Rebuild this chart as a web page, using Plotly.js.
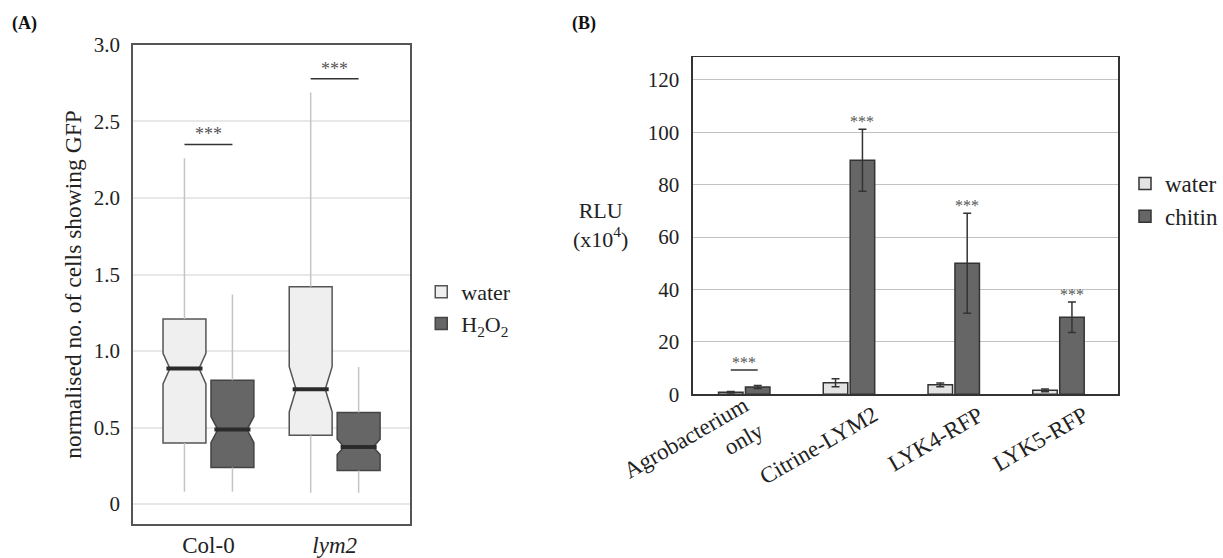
<!DOCTYPE html>
<html>
<head>
<meta charset="utf-8">
<script src="https://cdn.plot.ly/plotly-3.0.1.min.js"></script>
<style>html,body{margin:0;padding:0;background:#fff;}#chart{width:1223px;height:558px;}</style>
</head>
<body>
<div id="chart"></div>
<script>
// ---------- Panel A data (box plots) ----------
const groupsA = ['Col-0', '<i>lym2</i>'];
const waterQ1 = [0.40, 0.45];
const waterMedian = [0.886, 0.75];
const waterQ3 = [1.21, 1.42];
const waterLow = [0.08, 0.074];
const waterHigh = [2.26, 2.69];
const waterNotch = [0.10, 0.148];
const h2o2Q1 = [0.24, 0.22];
const h2o2Median = [0.487, 0.374];
const h2o2Q3 = [0.81, 0.598];
const h2o2Low = [0.08, 0.074];
const h2o2High = [1.37, 0.896];
const h2o2Notch = [0.085, 0.05];
const sigA = [2.35, 2.78];
const yTicksA = [0, 0.5, 1.0, 1.5, 2.0, 2.5, 3.0];
const yTickTextA = ['0', '0.5', '1.0', '1.5', '2.0', '2.5', '3.0'];

// ---------- Panel B data (bar chart) ----------
const catsB = ['Agrobacterium<br>only', 'Citrine-LYM2', 'LYK4-RFP', 'LYK5-RFP'];
const waterRLU = [0.8, 4.4, 3.6, 1.5];
const waterErr = [0.3, 1.5, 0.7, 0.5];
const chitinRLU = [2.8, 89.3, 50.0, 29.4];
const chitinErr = [0.6, 11.8, 19.1, 5.8];
const sigBarB = 9.3; // bracket over Agrobacterium only
const yTicksB = [0, 20, 40, 60, 80, 100, 120];

// ---------- styling ----------
const FONT = 'Liberation Serif, Times New Roman, serif';
const boxOff = 0.19, boxW = 0.34, notchW = 0.16;
const bargap = 0.486;
const barOff = (1 - bargap) / 4;

const posW = groupsA.map((g, i) => i + 1 - boxOff);
const posH = groupsA.map((g, i) => i + 1 + boxOff);

function whiskers(pos, lo, q1, q3, hi) {
  const x = [], y = [];
  pos.forEach((p, i) => { x.push(p, p, null, p, p, null); y.push(lo[i], q1[i], null, q3[i], hi[i], null); });
  return {x, y};
}
function medians(pos, med) {
  const x = [], y = [];
  const hw = boxW / 2 * (1 - notchW);
  pos.forEach((p, i) => { x.push(p - hw, p + hw, null); y.push(med[i], med[i], null); });
  return {x, y};
}
const wW = whiskers(posW, waterLow, waterQ1, waterQ3, waterHigh);
const wH = whiskers(posH, h2o2Low, h2o2Q1, h2o2Q3, h2o2High);
const mW = medians(posW, waterMedian);
const mH = medians(posH, h2o2Median);

const traces = [
  {type: 'scatter', mode: 'lines', x: wW.x, y: wW.y, xaxis: 'x', yaxis: 'y', line: {color: '#c4c4c4', width: 1.5}, showlegend: false, hoverinfo: 'skip'},
  {type: 'scatter', mode: 'lines', x: wH.x, y: wH.y, xaxis: 'x', yaxis: 'y', line: {color: '#c4c4c4', width: 1.5}, showlegend: false, hoverinfo: 'skip'},
  {type: 'box', name: 'water', x: posW, q1: waterQ1, median: waterMedian, q3: waterQ3,
   lowerfence: waterQ1, upperfence: waterQ3, notchspan: waterNotch, notched: true, notchwidth: notchW,
   width: boxW, whiskerwidth: 0, boxpoints: false, fillcolor: '#efefef', line: {color: '#555', width: 1.5},
   xaxis: 'x', yaxis: 'y', legend: 'legend'},
  {type: 'box', name: 'H<sub>2</sub>O<sub>2</sub>', x: posH, q1: h2o2Q1, median: h2o2Median, q3: h2o2Q3,
   lowerfence: h2o2Q1, upperfence: h2o2Q3, notchspan: h2o2Notch, notched: true, notchwidth: notchW,
   width: boxW, whiskerwidth: 0, boxpoints: false, fillcolor: '#666666', line: {color: '#444', width: 1.5},
   xaxis: 'x', yaxis: 'y', legend: 'legend'},
  {type: 'scatter', mode: 'lines', x: mW.x, y: mW.y, xaxis: 'x', yaxis: 'y', line: {color: '#2b2b2b', width: 4}, showlegend: false, hoverinfo: 'skip'},
  {type: 'scatter', mode: 'lines', x: mH.x, y: mH.y, xaxis: 'x', yaxis: 'y', line: {color: '#2b2b2b', width: 4}, showlegend: false, hoverinfo: 'skip'},
  {type: 'bar', name: 'water', x: catsB, y: waterRLU, xaxis: 'x2', yaxis: 'y2', legend: 'legend2',
   marker: {color: '#e3e3e3', line: {color: '#333', width: 1.5}},
   error_y: {type: 'data', array: waterErr, color: '#333', thickness: 1.5, width: 4}},
  {type: 'bar', name: 'chitin', x: catsB, y: chitinRLU, xaxis: 'x2', yaxis: 'y2', legend: 'legend2',
   marker: {color: '#666666', line: {color: '#333', width: 1.5}},
   error_y: {type: 'data', array: chitinErr, color: '#333', thickness: 1.5, width: 4}}
];

const shapes = [];
const annotations = [];
groupsA.forEach((g, i) => {
  shapes.push({type: 'line', xref: 'x', yref: 'y', x0: posW[i], x1: posH[i], y0: sigA[i], y1: sigA[i], line: {color: '#333', width: 1.5}});
  annotations.push({xref: 'x', yref: 'y', x: i + 1, y: sigA[i], text: '***', showarrow: false, yanchor: 'bottom', yshift: -2, font: {family: FONT, size: 18, color: '#555'}});
});
shapes.push({type: 'line', xref: 'x2', yref: 'y2', x0: 0 - barOff, x1: 0 + barOff, y0: sigBarB, y1: sigBarB, line: {color: '#333', width: 1.5}});
annotations.push({xref: 'x2', yref: 'y2', x: 0, y: sigBarB, text: '***', showarrow: false, yanchor: 'bottom', yshift: -3, font: {family: FONT, size: 16, color: '#555'}});
catsB.forEach((c, i) => {
  // category labels of panel B, rotated like the original
  const extra = c.split('<br>').length - 1;
  annotations.push({xref: 'x2', yref: 'y2', x: i, y: 0, text: c, showarrow: false, textangle: -30,
    xanchor: 'right', yanchor: 'top', align: 'right', xshift: 36 - 9 * extra, yshift: -5 + 10 * extra,
    font: {family: FONT, size: 23, color: '#222'}});
  if (i === 0) return;
  annotations.push({xref: 'x2', yref: 'y2', x: i + barOff, y: chitinRLU[i] + chitinErr[i], text: '***', showarrow: false, yanchor: 'bottom', yshift: -3, font: {family: FONT, size: 16, color: '#555'}});
});
annotations.push({xref: 'paper', yref: 'paper', x: 0.008, y: 1 - 11 / 558, xanchor: 'left', yanchor: 'top', text: '<b>(A)</b>', showarrow: false, font: {family: FONT, size: 18, color: '#111'}});
annotations.push({xref: 'paper', yref: 'paper', x: 0.467, y: 1 - 11 / 558, xanchor: 'left', yanchor: 'top', text: '<b>(B)</b>', showarrow: false, font: {family: FONT, size: 18, color: '#111'}});
annotations.push({xref: 'paper', yref: 'paper', x: 0.4922, y: 0.5968, xanchor: 'center', yanchor: 'middle', text: 'RLU<br>(x10<sup>4</sup>)', showarrow: false, font: {family: FONT, size: 22, color: '#222'}});

const layout = {
  width: 1223, height: 558,
  margin: {l: 0, r: 0, t: 0, b: 0},
  paper_bgcolor: '#fff', plot_bgcolor: '#fff',
  font: {family: FONT, color: '#222'},
  boxmode: 'overlay',
  barmode: 'group', bargap: bargap, bargroupgap: 0.09,
  xaxis: {domain: [0.1087, 0.3361], range: [0.4, 2.6], tickvals: [1, 2], ticktext: groupsA,
    showgrid: false, zeroline: false, showline: true, mirror: true, linecolor: '#555', linewidth: 1.5,
    ticks: '', tickfont: {size: 23}, anchor: 'y'},
  yaxis: {domain: [0.0609, 0.9194], range: [-0.13, 3.0], tickvals: yTicksA, ticktext: yTickTextA,
    showgrid: true, gridcolor: '#e8e8e8', gridwidth: 2, zeroline: false, showline: true, mirror: true,
    linecolor: '#555', linewidth: 1.5, ticks: '', tickfont: {size: 21}, ticklabelstandoff: 7, anchor: 'x',
    title: {text: 'normalised no. of cells showing GFP', font: {size: 23.5}, standoff: 5}},
  xaxis2: {domain: [0.5675, 0.9158], range: [-0.49, 3.57], type: 'category', showticklabels: false,
    showgrid: false, zeroline: false, showline: true, mirror: true, linecolor: '#333', linewidth: 1.5,
    ticks: '', anchor: 'y2'},
  yaxis2: {domain: [0.2934, 0.8978], range: [0, 128.7], tickvals: yTicksB,
    showgrid: true, gridcolor: '#c2c2c2', gridwidth: 1, zeroline: false, showline: true, mirror: true,
    linecolor: '#333', linewidth: 1.5, ticks: '', tickfont: {size: 21}, ticklabelstandoff: 8, anchor: 'x2'},
  legend: {x: 0.345, xanchor: 'left', y: 1 - 271 / 558, yanchor: 'top', font: {size: 22}, bgcolor: 'rgba(0,0,0,0)', itemwidth: 30},
  legend2: {x: 0.9215, xanchor: 'left', y: 1 - 162 / 558, yanchor: 'top', font: {size: 23}, bgcolor: 'rgba(0,0,0,0)', itemwidth: 30},
  shapes: shapes,
  annotations: annotations
};

Plotly.newPlot('chart', traces, layout, {staticPlot: true});
</script>
</body>
</html>
